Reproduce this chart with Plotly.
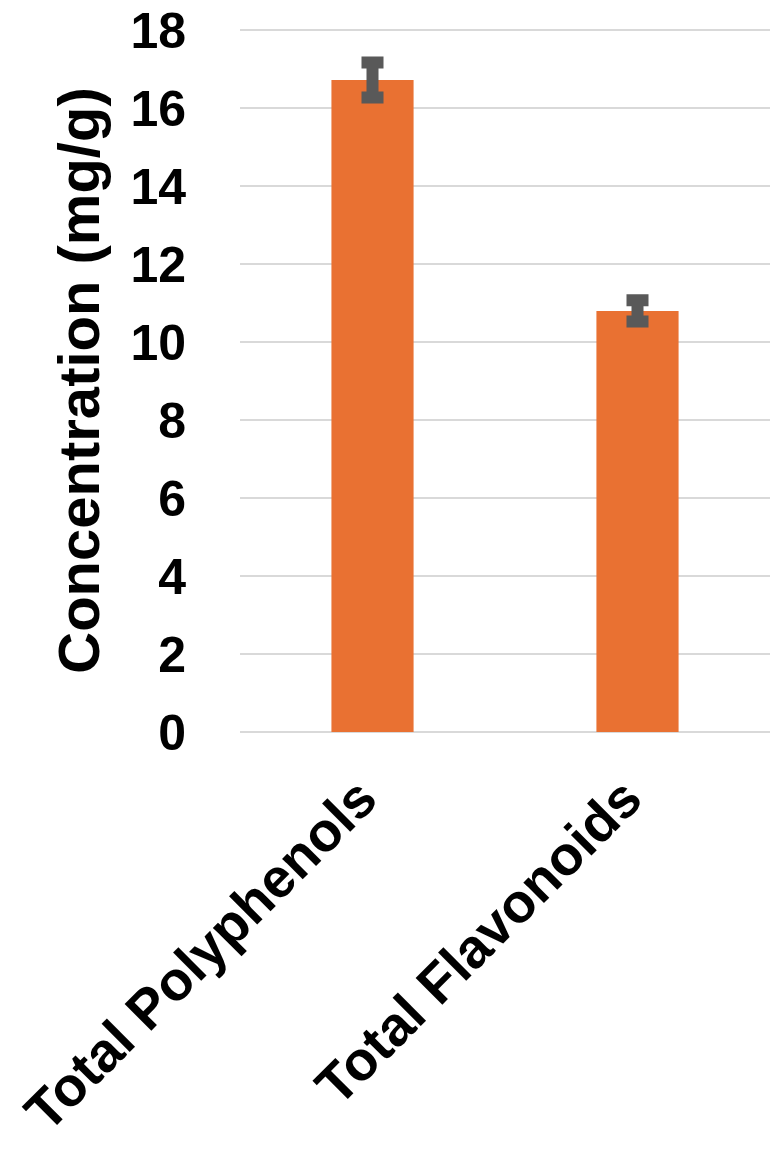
import plotly.graph_objects as go

categories = ["Total Polyphenols", "Total Flavonoids"]
values = [16.72, 10.80]
errors = [0.45, 0.27]
y_ticks = [0, 2, 4, 6, 8, 10, 12, 14, 16, 18]

FONT = "Liberation Sans, Arial, sans-serif"

fig = go.Figure()
fig.add_trace(go.Bar(
    x=categories,
    y=values,
    marker=dict(color="#E97132", line=dict(width=0)),
    error_y=dict(type="data", array=errors, visible=True,
                 color="#595959", thickness=12, width=11),
    width=0.31,
))

fig.update_layout(
    width=772, height=1157,
    margin=dict(l=232, r=10, t=21, b=433),
    plot_bgcolor="white", paper_bgcolor="white",
    showlegend=False,
    font=dict(family=FONT, color="black"),
    xaxis=dict(
        automargin=False,
        tickangle=-45,
        tickfont=dict(family=FONT, size=55, weight="bold", color="black"),
        showgrid=False, showline=False, zeroline=False,
        ticks="", ticklabelstandoff=22, ticklabelshift=-12,
        ticklabeloverflow="allow",
    ),
    yaxis=dict(
        automargin=False,
        range=[0, 18.03],
        tickvals=y_ticks,
        tickfont=dict(family=FONT, size=50, weight="bold", color="black"),
        showgrid=True, gridcolor="#D9D9D9", gridwidth=2,
        zeroline=True, zerolinecolor="#D9D9D9", zerolinewidth=2,
        showline=False, ticks="", ticklabelstandoff=53,
        ticklabeloverflow="allow",
        title=dict(text="Concentration (mg/g)",
                   font=dict(family=FONT, size=58, weight="bold", color="black"),
                   standoff=12),
    ),
)

fig.write_html("out.html")
